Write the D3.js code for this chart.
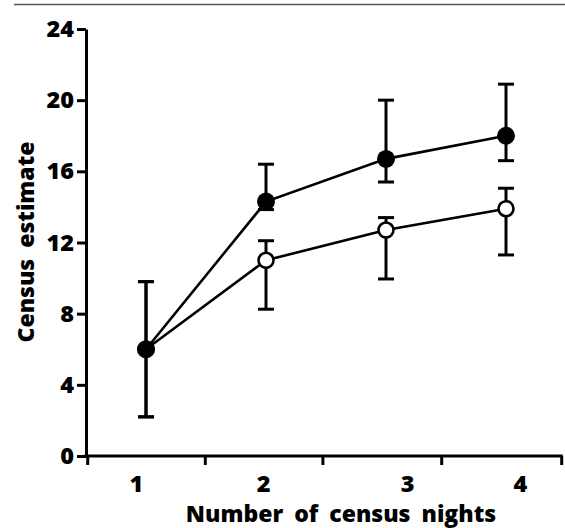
<!DOCTYPE html>
<html>
<head>
<meta charset="utf-8">
<script src="https://cdn.jsdelivr.net/npm/d3@7"></script>
<style>
  body { margin: 0; background: #fff; }
  text { font-family: "Open Sans", sans-serif; font-weight: 700; fill: #000; }
</style>
</head>
<body>
<div id="chart"></div>
<script>
// census nights on x, estimate on y
const nights = [1, 2, 3, 4];

// filled circles
const filledMean = [6.0, 14.3, 16.7, 18.0];
const filledLow = [2.2, 13.85, 15.4, 16.6];
const filledHigh = [9.8, 16.4, 20.0, 20.9];

// open circles
const openMean = [6.0, 11.0, 12.7, 13.9];
const openLow = [2.2, 8.25, 9.95, 11.3];
const openHigh = [9.8, 12.1, 13.4, 15.05];

const yTicks = [0, 4, 8, 12, 16, 20, 24];
const xTickAt = [0.51, 1.49, 2.47, 3.46, 4.46];
const xLabels = ["1", "2", "3", "4"];
const xLabelAt = [0.92, 1.98, 3.18, 4.12];

const width = 565, height = 528;
const svg = d3.select("#chart").append("svg")
    .attr("width", width)
    .attr("height", height);

let x = d3.scaleLinear().domain([1, 4]).range([146, 506]);
let y = d3.scaleLinear().domain([0, 24]).range([456, 29]);
const axisX = 86;

// grey rule at top
svg.append("line")
    .attr("x1", 14).attr("x2", width)
    .attr("y1", 4.5).attr("y2", 4.5)
    .attr("stroke", "#555")
    .attr("stroke-width", 1.6);

// y axis
let yAxis = svg.append("g")
    .attr("transform", "translate(" + axisX + ",0)")
    .call(d3.axisLeft(y).tickValues(yTicks).tickSize(9).tickSizeOuter(0).tickPadding(3));
yAxis.select(".domain").attr("stroke", "#000").attr("stroke-width", 3);
yAxis.selectAll(".tick line").attr("stroke", "#000").attr("stroke-width", 3);
yAxis.selectAll(".tick text")
    .style("font-size", "23.5px")
    .style("font-family", "'Open Sans', sans-serif")
    .style("font-weight", 800)
    .attr("fill", "#000");

// x axis (ticks only, labels placed separately)
let xAxis = svg.append("g")
    .attr("transform", "translate(0," + y(0) + ")")
    .call(d3.axisBottom(x).tickValues(xTickAt).tickFormat("").tickSize(9).tickSizeOuter(0));
xAxis.select(".domain").remove();
xAxis.selectAll(".tick line").attr("stroke", "#000").attr("stroke-width", 3);
xAxis.append("line")
    .attr("x1", axisX - 1.5).attr("x2", x(xTickAt[xTickAt.length - 1]) + 1.5)
    .attr("stroke", "#000")
    .attr("stroke-width", 3);

svg.selectAll(".xlab")
    .data(xLabels)
    .enter().append("text")
    .attr("class", "xlab")
    .attr("x", (d, i) => x(xLabelAt[i]))
    .attr("y", y(0) + 36)
    .attr("text-anchor", "middle")
    .style("font-size", "23.5px")
    .style("font-weight", 800)
    .text(d => d);

// axis titles
svg.append("text")
    .attr("x", 341)
    .attr("y", 522)
    .attr("text-anchor", "middle")
    .style("font-size", "23px")
    .style("font-weight", 800)
    .style("word-spacing", "5px")
    .text("Number of census nights");

svg.append("text")
    .attr("transform", "translate(26,242) rotate(-90)")
    .attr("text-anchor", "middle")
    .attr("dy", "0.36em")
    .style("font-size", "23px")
    .style("font-weight", 800)
    .style("word-spacing", "5px")
    .text("Census estimate");

function series(mean, low, high) {
    return nights.map((n, i) => ({ n: n, m: mean[i], lo: low[i], hi: high[i] }));
}
let filled = series(filledMean, filledLow, filledHigh);
let open = series(openMean, openLow, openHigh);

let line = d3.line().x(d => x(d.n)).y(d => y(d.m));

[open, filled].forEach(s => {
    svg.append("path")
        .datum(s)
        .attr("d", line)
        .attr("fill", "none")
        .attr("stroke", "#000")
        .attr("stroke-width", 2.6);
});

// error bars
const cap = 8;
[open, filled].forEach(s => {
    let g = svg.append("g").attr("stroke", "#000").attr("stroke-width", 3);
    g.selectAll(".stem").data(s).enter().append("line")
        .attr("x1", d => x(d.n)).attr("x2", d => x(d.n))
        .attr("y1", d => y(d.lo)).attr("y2", d => y(d.hi));
    g.selectAll(".capLo").data(s).enter().append("line")
        .attr("x1", d => x(d.n) - cap).attr("x2", d => x(d.n) + cap)
        .attr("y1", d => y(d.lo)).attr("y2", d => y(d.lo));
    g.selectAll(".capHi").data(s).enter().append("line")
        .attr("x1", d => x(d.n) - cap).attr("x2", d => x(d.n) + cap)
        .attr("y1", d => y(d.hi)).attr("y2", d => y(d.hi));
});

// markers
svg.selectAll(".open").data(open).enter().append("circle")
    .attr("cx", d => x(d.n)).attr("cy", d => y(d.m))
    .attr("r", 7.5)
    .attr("fill", "#fff")
    .attr("stroke", "#000")
    .attr("stroke-width", 2.6);

svg.selectAll(".filled").data(filled).enter().append("circle")
    .attr("cx", d => x(d.n)).attr("cy", d => y(d.m))
    .attr("r", 9)
    .attr("fill", "#000");
</script>
</body>
</html>
